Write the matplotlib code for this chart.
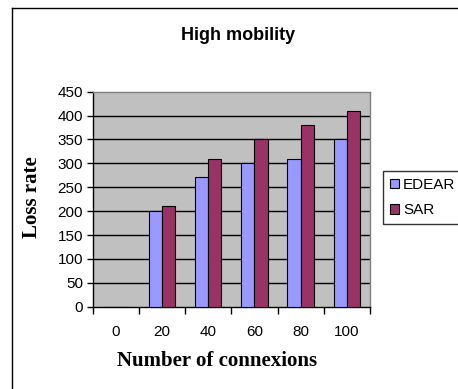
import matplotlib
matplotlib.use("Agg")
import matplotlib.pyplot as plt
from matplotlib.lines import Line2D
from matplotlib.patches import Patch
import numpy as np

categories = ["0", "20", "40", "60", "80", "100"]
edear = [0, 200, 272, 300, 310, 350]
sar = [0, 210, 310, 350, 380, 410]
y_ticks = [0, 50, 100, 150, 200, 250, 300, 350, 400, 450]

fig = plt.figure(figsize=(4.58, 3.89), dpi=100)
fig.patch.set_facecolor("white")

# outer chart frame (left and top edges)
fig.add_artist(Line2D([12 / 458, 12 / 458], [0, 1 - 8 / 389], transform=fig.transFigure,
                      color="black", lw=1.0))
fig.add_artist(Line2D([12 / 458, 1], [1 - 8 / 389, 1 - 8 / 389], transform=fig.transFigure,
                      color="black", lw=1.0))

ax = fig.add_axes([92.7 / 458, 1 - 306.7 / 389, (370 - 92.7) / 458, (306.7 - 91.7) / 389])
ax.set_facecolor("#C0C0C0")

x = np.arange(len(categories))
w = 1 / 3.5
ax.bar(x - w / 2, edear, width=w, color="#9999FF", edgecolor="black", linewidth=0.8, zorder=3)
ax.bar(x + w / 2, sar, width=w, color="#993366", edgecolor="black", linewidth=0.8, zorder=3)

ax.set_xlim(-0.5, len(categories) - 0.5)
ax.set_ylim(0, 450)
ax.set_yticks(y_ticks)
ax.set_yticklabels([str(v) for v in y_ticks], fontfamily="Liberation Sans", fontsize=11)
ax.set_xticks(x)
ax.set_xticklabels(categories, fontfamily="Liberation Sans", fontsize=11)
ax.tick_params(axis="x", which="major", length=0, pad=13)
ax.set_xticks(np.arange(-0.5, len(categories)), minor=True)
ax.tick_params(axis="x", which="minor", length=5, width=1, color="black", direction="out")
ax.tick_params(axis="y", length=4, width=1, pad=3)

for v in y_ticks[1:-1]:
    ax.axhline(v, color="black", lw=1.0, zorder=2)

for s in ["top", "right"]:
    ax.spines[s].set_color("#808080")
    ax.spines[s].set_linewidth(1.0)
for s in ["left", "bottom"]:
    ax.spines[s].set_color("black")
    ax.spines[s].set_linewidth(1.0)

fig.text(238 / 458, 1 - 35 / 389, "High mobility", ha="center", va="center",
         fontfamily="Liberation Sans", fontweight="bold", fontsize=13)
fig.text(32 / 458, 1 - 197 / 389, "Loss rate", ha="center", va="center", rotation=90,
         fontfamily="Liberation Serif", fontweight="bold", fontsize=15)
fig.text(217 / 458, 1 - 361 / 389, "Number of connexions", ha="center", va="center",
         fontfamily="Liberation Serif", fontweight="bold", fontsize=15)

handles = [Patch(facecolor="#9999FF", edgecolor="black", linewidth=0.8),
           Patch(facecolor="#993366", edgecolor="black", linewidth=0.8)]
leg = fig.legend(handles, ["EDEAR", "SAR"], loc="upper left",
                 bbox_to_anchor=(383 / 458, 1 - 171 / 389), bbox_transform=fig.transFigure,
                 prop={"family": "Liberation Sans", "size": 11}, frameon=True, fancybox=False,
                 handlelength=0.6, handleheight=0.6, handletextpad=0.25, borderpad=0.45,
                 labelspacing=0.75, borderaxespad=0)
leg.get_frame().set_edgecolor("black")
leg.get_frame().set_linewidth(1.0)

fig.savefig("out.png", dpi=100)
